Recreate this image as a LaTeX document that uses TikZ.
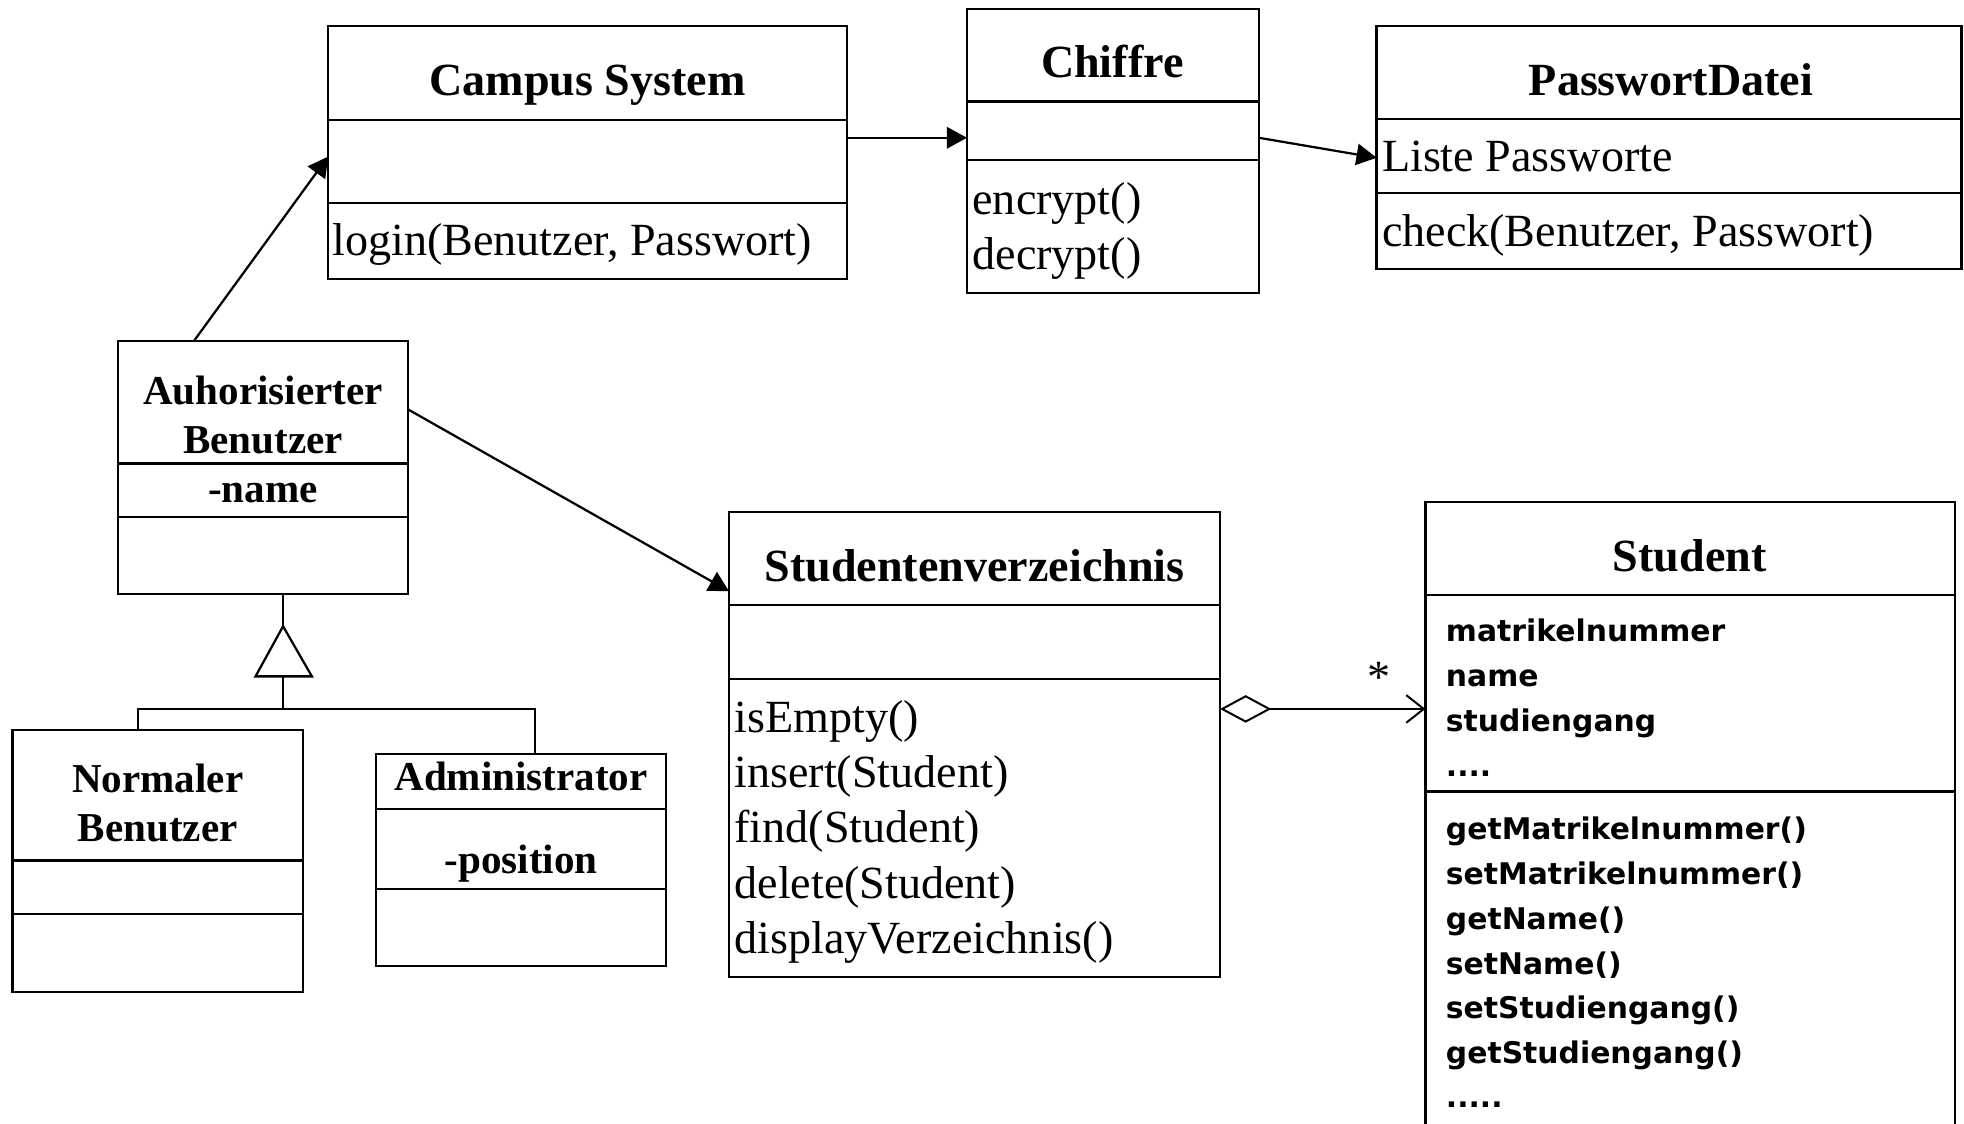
\documentclass[tikz,border=0pt]{standalone}
\usepackage{fontspec}
\setmainfont{Liberation Serif}
\newfontfamily\gothic{DejaVu Sans}
\usetikzlibrary{arrows.meta}

% class frame: name, left, top, right, bottom (units: 0.5pt, y downwards)
\newcommand\umlclass[5]{%
  \node[cls, minimum width={(#4-#2)*0.5pt}, minimum height={(#5-#3)*0.5pt}] (#1) at (#2,#3) {};}
% horizontal compartment rule inside a class frame
\newcommand\compartment[2]{\draw[rule] (#1.west |- 0,#2) -- (#1.east |- 0,#2);}

\begin{document}
\begin{tikzpicture}[x=0.5pt,y=-0.5pt,
  font=\fontsize{18.4pt}{22pt}\selectfont,
  cls/.style={draw, line width=0.9pt, inner sep=0pt, outer sep=0pt, anchor=north west},
  title/.style={font=\fontsize{18.4pt}{22pt}\selectfont\bfseries, inner sep=0pt, anchor=base},
  stitle/.style={font=\fontsize{16.4pt}{20pt}\selectfont\bfseries, inner sep=0pt, anchor=base},
  entry/.style={inner sep=0pt, anchor=base west},
  sentry/.style={inner sep=0pt, anchor=base west, font=\gothic\bfseries\fontsize{11.9pt}{15pt}\selectfont},
  rule/.style={line width=0.9pt},
  link/.style={line width=0.9pt, -{Triangle[length=8pt,width=8.5pt]}},
]
\useasboundingbox (0,0) rectangle (1568,897);
\clip (0,0) rectangle (1568,897);

% ---------- Campus System ----------
\umlclass{campus}{262}{21}{676}{223}
\compartment{campus}{96}
\compartment{campus}{162}
\node[title] (campus-t) at (469,76) {Campus System};
\node[entry] (campus-m1) at (265,204) {login(Benutzer, Passwort)};

% ---------- Chiffre ----------
\umlclass{chiffre}{772}{7}{1005}{234}
\compartment{chiffre}{81}
\compartment{chiffre}{128}
\node[title] (chiffre-t) at (888,62) {Chiffre};
\node[entry] (chiffre-m1) at (776,171) {encrypt()};
\node[entry] (chiffre-m2) at (776,215) {decrypt()};

% ---------- PasswortDatei ----------
\umlclass{pw}{1099}{21}{1566}{215}
\compartment{pw}{95}
\compartment{pw}{154}
\node[title] (pw-t) at (1334,76) {PasswortDatei};
\node[entry] (pw-a1) at (1103,137) {Liste Passworte};
\node[entry] (pw-m1) at (1103,197) {check(Benutzer, Passwort)};

% ---------- Auhorisierter Benutzer ----------
\umlclass{auth}{94}{272}{326}{474}
\compartment{auth}{370}
\compartment{auth}{413}
\node[stitle] (auth-t1) at (210,323) {Auhorisierter};
\node[stitle] (auth-t2) at (210,362) {Benutzer};
\node[stitle] (auth-a1) at (210,401) {-name};

% ---------- Normaler Benutzer ----------
\umlclass{normal}{10}{583}{242}{792}
\compartment{normal}{687}
\compartment{normal}{730}
\node[stitle] (normal-t1) at (126,633) {Normaler};
\node[stitle] (normal-t2) at (126,672) {Benutzer};

% ---------- Administrator ----------
\umlclass{admin}{300}{602}{532}{771}
\compartment{admin}{646}
\compartment{admin}{710}
\node[stitle] (admin-t) at (416,631) {Administrator};
\node[stitle] (admin-a1) at (416,697) {-position};

% ---------- Studentenverzeichnis ----------
\umlclass{studv}{582}{409}{974}{780}
\compartment{studv}{483}
\compartment{studv}{542}
\node[title] (studv-t) at (778,464) {Studentenverzeichnis};
\node[entry] (studv-m1) at (586,585) {isEmpty()};
\node[entry] (studv-m2) at (586,629) {insert(Student)};
\node[entry] (studv-m3) at (586,673) {find(Student)};
\node[entry] (studv-m4) at (586,717) {delete(Student)};
\node[entry] (studv-m5) at (586,761) {displayVerzeichnis()};

% ---------- Student ----------
\umlclass{student}{1138}{401}{1561}{910}
\compartment{student}{475}
\compartment{student}{632}
\node[title] (student-t) at (1349,456) {Student};
\node[sentry] (student-a1) at (1154,512) {matrikelnummer};
\node[sentry] (student-a2) at (1154,548) {name};
\node[sentry] (student-a3) at (1154,584) {studiengang};
\node[sentry] (student-a4) at (1154,620) {....};
\node[sentry] (student-m1) at (1154,670) {getMatrikelnummer()};
\node[sentry] (student-m2) at (1154,706) {setMatrikelnummer()};
\node[sentry] (student-m3) at (1154,742) {getName()};
\node[sentry] (student-m4) at (1154,778) {setName()};
\node[sentry] (student-m5) at (1154,813) {setStudiengang()};
\node[sentry] (student-m6) at (1154,849) {getStudiengang()};
\node[sentry] (student-m7) at (1154,884) {.....};

% ---------- associations ----------
\draw[link] (campus.east |- 0,110) -- (chiffre.west |- 0,110);
\draw[link] (chiffre.east |- 0,110) -- (pw.west |- 0,126);
\draw[link] (auth.north -| 155,0) -- (campus.west |- 0,125);
\draw[link] (auth.east |- 0,327) -- (studv.west |- 0,472);

% aggregation Studentenverzeichnis <>-- * Student
\draw[line width=0.8pt, {Diamond[open,length=20.5pt,width=11pt]}-{Straight Barb[length=7pt,width=11pt]}]
  (studv.east |- 0,566) -- (student.west |- 0,566);
\node[inner sep=0pt] (mult) at (1101,541) {*};

% ---------- generalisation ----------
\coordinate (apex) at (226,500);
\coordinate (gbase) at (226,540);
\coordinate (split) at (226,566);
\draw[rule] (auth.south -| apex) -- (apex);
\draw[rule] (apex) -- (204,540) -- (249,540) -- cycle;
\draw[rule] (gbase) -- (split);
\draw[rule] (normal.north -| 110,0) -- (110,566) -- (427,566) -- (admin.north -| 427,0);
\end{tikzpicture}
\end{document}
